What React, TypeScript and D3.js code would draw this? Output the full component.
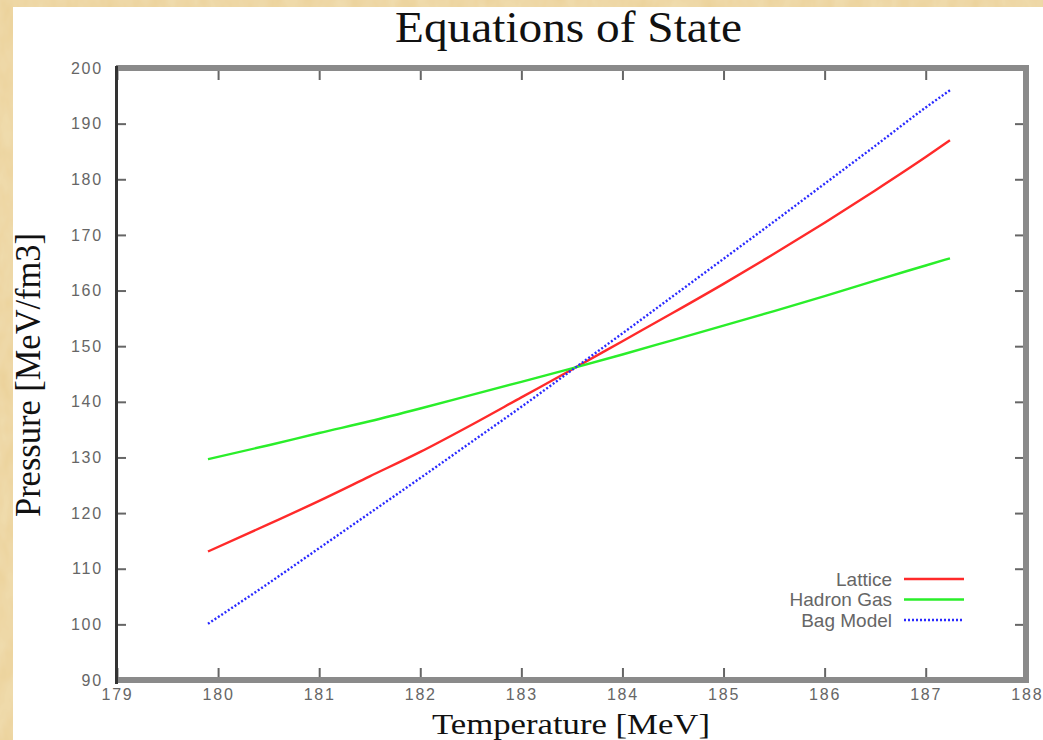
import React, { useEffect, useRef } from "react"
import * as d3 from "d3"

// temperatures (MeV) the curves were read at
const temps = [179.9, 180.5, 181, 181.5, 182, 182.5, 183, 183.5, 184, 184.5, 185, 185.5, 186, 186.5, 187, 187.24]
// pressure (MeV/fm3)
const lattice = [113.1, 118.0, 122.2, 126.6, 131.0, 135.8, 140.8, 145.8, 150.9, 156.0, 161.2, 166.6, 172.2, 178.0, 184.0, 187.0]
const hadronGas = [129.7, 132.2, 134.4, 136.5, 138.8, 141.2, 143.6, 146.0, 148.5, 151.1, 153.7, 156.3, 159.0, 161.8, 164.5, 165.8]
const bagModel = [100.1, 107.4, 113.7, 120.0, 126.3, 132.7, 139.1, 145.7, 152.3, 159.0, 165.7, 172.4, 179.2, 186.0, 192.9, 196.0]

const seriesNames = ["Lattice", "Hadron Gas", "Bag Model"]
const seriesValues = [lattice, hadronGas, bagModel]
const seriesColors = ["#ff2a2a", "#2aee2a", "#2a2aff"]
const seriesDash = [null, null, "2,2"]

const xTicks = [179, 180, 181, 182, 183, 184, 185, 186, 187, 188]
const yTicks = [90, 100, 110, 120, 130, 140, 150, 160, 170, 180, 190, 200]

const W = 1043
const H = 740
const serif = "'Liberation Serif', 'Times New Roman', serif"
const sans = "'Liberation Sans', Arial, sans-serif"

const App = () => {
  const ref = useRef<SVGSVGElement>(null)

  useEffect(() => {
    const svg = d3.select(ref.current)
    svg.selectAll("*").remove()

    // parchment background
    const defs = svg.append("defs")
    const f = defs.append("filter").attr("id", "paper").attr("x", 0).attr("y", 0).attr("width", 1).attr("height", 1)
    f.append("feTurbulence").attr("type", "fractalNoise").attr("baseFrequency", "0.06 0.03").attr("numOctaves", 3).attr("seed", 4).attr("result", "n")
    f.append("feColorMatrix").attr("in", "n").attr("type", "matrix")
      .attr("values", "0 0 0 0 0.93  0 0 0 0 0.84  0 0 0 0 0.64  0 0 0 -0.9 0.75")
      .attr("result", "c")
    f.append("feFlood").attr("flood-color", "#f0dcae").attr("result", "b")
    f.append("feBlend").attr("in", "c").attr("in2", "b").attr("mode", "multiply")

    svg.append("rect").attr("width", W).attr("height", H).attr("fill", "#ecd7a6")
    svg.append("rect").attr("width", W).attr("height", H).attr("filter", "url(#paper)")
    svg.append("rect").attr("x", 13).attr("y", 7).attr("width", W - 13).attr("height", H - 7).attr("fill", "#fff")

    const x = d3.scaleLinear().domain([179, 188]).range([117, 1026.8])
    const y = d3.scaleLinear().domain([90, 200]).range([680, 68])

    // title & axis titles
    svg.append("text").attr("x", 568.5).attr("y", 42).attr("text-anchor", "middle")
      .attr("font-family", serif).attr("font-size", 44).attr("textLength", 347).attr("lengthAdjust", "spacingAndGlyphs")
      .attr("fill", "#111").text("Equations of State")
    svg.append("text").attr("x", 571).attr("y", 734).attr("text-anchor", "middle")
      .attr("font-family", serif).attr("font-size", 29).attr("textLength", 278).attr("lengthAdjust", "spacingAndGlyphs")
      .attr("fill", "#111").text("Temperature [MeV]")
    svg.append("text").attr("transform", "translate(40,375) rotate(-90)").attr("text-anchor", "middle")
      .attr("font-family", serif).attr("font-size", 35).attr("textLength", 284).attr("lengthAdjust", "spacingAndGlyphs")
      .attr("fill", "#111").text("Pressure [MeV/fm3]")

    const styleAxis = (g: any) => {
      g.select(".domain").remove()
      g.selectAll(".tick line").attr("stroke", "#666").attr("stroke-width", 2)
      g.selectAll(".tick text").attr("fill", "#666").attr("font-family", sans).attr("font-size", 16).attr("letter-spacing", 1.8)
    }

    svg.append("g").attr("transform", "translate(0,677)")
      .call(d3.axisBottom(x).tickValues(xTicks).tickSize(-9).tickPadding(12).tickFormat(d3.format("d")))
      .call(styleAxis)
    svg.append("g").attr("transform", "translate(0,71)")
      .call(d3.axisTop(x).tickValues(xTicks).tickSize(-9).tickFormat(() => ""))
      .call(styleAxis)
    svg.append("g").attr("transform", "translate(118,0)")
      .call(d3.axisLeft(y).tickValues(yTicks).tickSize(-8).tickPadding(15).tickFormat(d3.format("d")))
      .call(styleAxis)
    svg.append("g").attr("transform", "translate(1023,0)")
      .call(d3.axisRight(y).tickValues(yTicks).tickSize(-8).tickFormat(() => ""))
      .call(styleAxis)

    // frame
    svg.append("line").attr("x1", 116).attr("x2", 1029).attr("y1", 68).attr("y2", 68).attr("stroke", "#8a8a8a").attr("stroke-width", 6)
    svg.append("line").attr("x1", 116).attr("x2", 1029).attr("y1", 680).attr("y2", 680).attr("stroke", "#8a8a8a").attr("stroke-width", 6)
    svg.append("line").attr("x1", 1026).attr("x2", 1026).attr("y1", 65).attr("y2", 683).attr("stroke", "#8a8a8a").attr("stroke-width", 6)
    svg.append("line").attr("x1", 116.5).attr("x2", 116.5).attr("y1", 66).attr("y2", 684).attr("stroke", "#333").attr("stroke-width", 3)

    // curves
    const line = d3.line<number>().x((_, i) => x(temps[i])).y(d => y(d)).curve(d3.curveMonotoneX)
    seriesValues.forEach((vals, k) => {
      svg.append("path").attr("d", line(vals)).attr("fill", "none")
        .attr("stroke", seriesColors[k]).attr("stroke-width", 2.4)
        .attr("stroke-dasharray", seriesDash[k])
    })

    // legend
    seriesNames.forEach((name, k) => {
      const ly = 579 + k * 20.5
      svg.append("text").attr("x", 892).attr("y", ly).attr("dy", "0.36em").attr("text-anchor", "end")
        .attr("font-family", sans).attr("font-size", 19).attr("fill", "#666").text(name)
      svg.append("line").attr("x1", 904).attr("x2", 964).attr("y1", ly).attr("y2", ly)
        .attr("stroke", seriesColors[k]).attr("stroke-width", 2.4).attr("stroke-dasharray", seriesDash[k])
    })
  }, [])

  return (
    <svg ref={ref} width={W} height={H} style={{ position: "absolute", left: 0, top: 0, display: "block" }} />
  )
}

export default App
